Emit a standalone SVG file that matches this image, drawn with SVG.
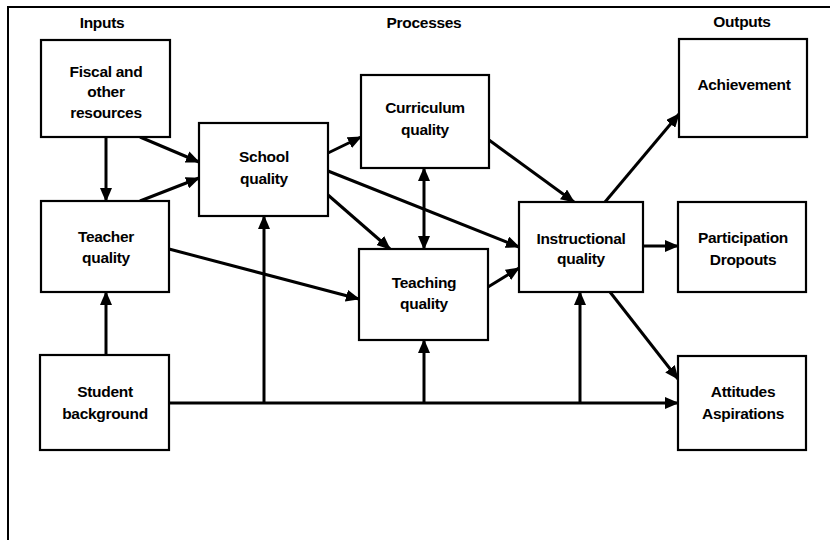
<svg xmlns="http://www.w3.org/2000/svg" width="830" height="540" viewBox="0 0 830 540">
<style>
.box{fill:#fff;stroke:#000;stroke-width:2.2}
.t{font-family:"Liberation Sans",Arial,Helvetica,sans-serif;font-weight:bold;font-size:15.5px;text-anchor:middle;fill:#000;letter-spacing:-0.3px}
.c{fill:none;stroke:#000;stroke-width:3}
.a{marker-end:url(#ah)}
.frame{fill:none;stroke:#000;stroke-width:2}
</style>
<defs>
<marker id="ah" markerUnits="userSpaceOnUse" markerWidth="14" markerHeight="12" refX="13" refY="6" orient="auto-start-reverse">
<path d="M0,0 L14,6 L0,12 z" fill="#000"/>
</marker>
</defs>
<rect width="830" height="540" fill="#fff"/>
<path class="frame" d="M8,540 L8,7 L830,7"/>
<g id="headers">
<text class="t" x="102" y="28">Inputs</text>
<text class="t" x="424" y="28">Processes</text>
<text class="t" x="742" y="27">Outputs</text>
</g>
<g id="connectors">
<line class="c a" x1="106" y1="137" x2="106" y2="201"/>
<line class="c a" x1="140" y1="137" x2="199" y2="162"/>
<line class="c a" x1="140" y1="201" x2="199" y2="178"/>
<line class="c a" x1="106" y1="356" x2="106" y2="292"/>
<line class="c a" x1="328" y1="153" x2="361" y2="137"/>
<line class="c a" x1="328" y1="171" x2="519" y2="247"/>
<line class="c a" x1="328" y1="195" x2="390" y2="249"/>
<line class="c a" x1="169" y1="249" x2="359" y2="299"/>
<line class="c a" x1="424" y1="168" x2="424" y2="249" marker-start="url(#ah)"/>
<line class="c a" x1="489" y1="140" x2="574" y2="202"/>
<line class="c a" x1="488" y1="287" x2="519" y2="268"/>
<line class="c a" x1="605" y1="202" x2="679" y2="114"/>
<line class="c a" x1="643" y1="246" x2="678" y2="246"/>
<line class="c a" x1="610" y1="292" x2="678" y2="379"/>
<line class="c a" x1="169" y1="403" x2="678" y2="403"/>
<line class="c a" x1="264" y1="403" x2="264" y2="216"/>
<line class="c a" x1="424" y1="403" x2="424" y2="340"/>
<line class="c a" x1="580" y1="403" x2="580" y2="292"/>
</g>
<g id="fiscal">
<rect class="box" x="41" y="40" width="129" height="97"/>
<text class="t" x="106" y="77">Fiscal and</text>
<text class="t" x="106" y="97">other</text>
<text class="t" x="106" y="118">resources</text>
</g>
<g id="teacher">
<rect class="box" x="41" y="201" width="128" height="91"/>
<text class="t" x="106" y="242">Teacher</text>
<text class="t" x="106" y="263">quality</text>
</g>
<g id="student">
<rect class="box" x="40" y="355" width="129" height="95"/>
<text class="t" x="105" y="397">Student</text>
<text class="t" x="105" y="419">background</text>
</g>
<g id="school">
<rect class="box" x="199" y="123" width="129" height="93"/>
<text class="t" x="264" y="162">School</text>
<text class="t" x="264" y="184">quality</text>
</g>
<g id="curriculum">
<rect class="box" x="361" y="75" width="128" height="93"/>
<text class="t" x="425" y="113">Curriculum</text>
<text class="t" x="425" y="135">quality</text>
</g>
<g id="teaching">
<rect class="box" x="359" y="249" width="129" height="91"/>
<text class="t" x="424" y="288">Teaching</text>
<text class="t" x="424" y="309">quality</text>
</g>
<g id="instructional">
<rect class="box" x="519" y="202" width="124" height="90"/>
<text class="t" x="581" y="244">Instructional</text>
<text class="t" x="581" y="264">quality</text>
</g>
<g id="achievement">
<rect class="box" x="679" y="39" width="128" height="98"/>
<text class="t" x="744" y="90">Achievement</text>
</g>
<g id="participation">
<rect class="box" x="678" y="202" width="128" height="90"/>
<text class="t" x="743" y="243">Participation</text>
<text class="t" x="743" y="265">Dropouts</text>
</g>
<g id="attitudes">
<rect class="box" x="678" y="356" width="128" height="94"/>
<text class="t" x="743" y="397">Attitudes</text>
<text class="t" x="743" y="419">Aspirations</text>
</g>
</svg>
